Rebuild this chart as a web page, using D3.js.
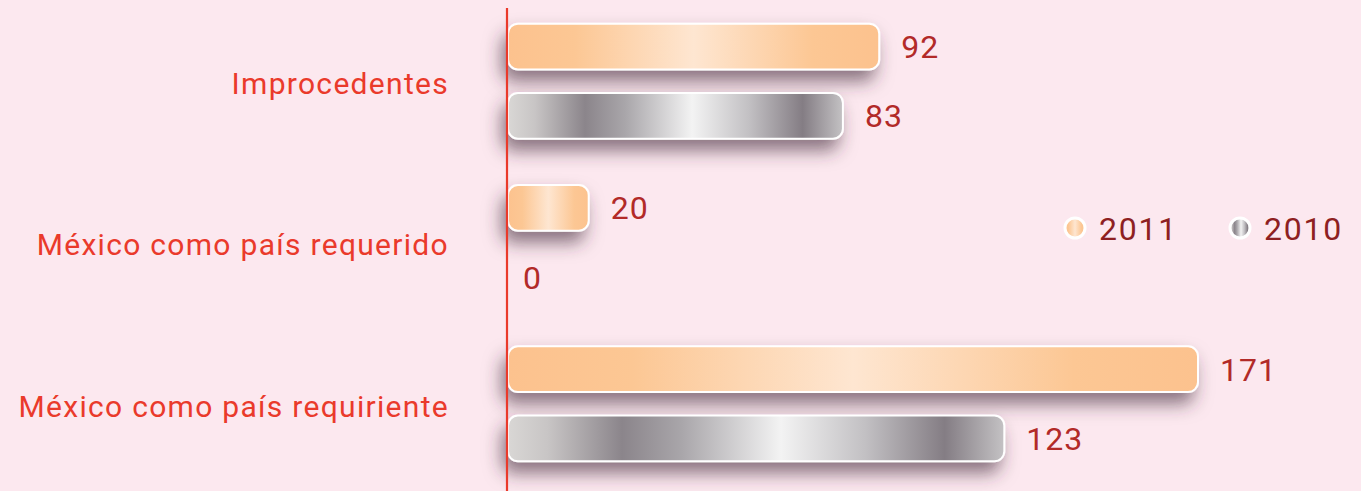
<!DOCTYPE html>
<html>
<head>
<meta charset="utf-8">
<script src="https://cdn.jsdelivr.net/npm/d3@7"></script>
<style>
  html, body { margin: 0; padding: 0; background: #fce8ef; }
  svg { display: block; }
</style>
</head>
<body>
<div id="chart"></div>
<script>
// data
const categories = ["Improcedentes", "México como país requerido", "México como país requiriente"];
const years = ["2011", "2010"];
const values2011 = [92, 20, 171];
const values2010 = [83, 0, 123];

const width = 1361, height = 491;
const x0 = 508;

const rows = categories.map((c, i) => ({ cat: c, vals: [
  { year: "2011", value: values2011[i] },
  { year: "2010", value: values2010[i] }
]}));

const svg = d3.select("#chart").append("svg")
  .attr("width", width)
  .attr("height", height);

svg.append("rect").attr("width", width).attr("height", height).attr("fill", "#fce8ef");

const defs = svg.append("defs");

const orange = defs.append("linearGradient").attr("id", "g2011");
[[0, "#fcc28e"], [0.18, "#fcc794"], [0.5, "#fee6d1"], [0.82, "#fcc794"], [1, "#fcc28e"]]
  .forEach(([o, c]) => orange.append("stop").attr("offset", o).attr("stop-color", c));

const grey = defs.append("linearGradient").attr("id", "g2010");
[[0, "#d9d7d5"], [0.08, "#c8c5c5"], [0.23, "#8b858b"], [0.35, "#a9a6aa"], [0.55, "#f3f3f3"], [0.72, "#c2c0c3"], [0.88, "#847d84"], [1, "#c4c2c4"]]
  .forEach(([o, c]) => grey.append("stop").attr("offset", o).attr("stop-color", c));

// shadow region in user space so it is never clipped
const shadow = defs.append("filter").attr("id", "shadow")
  .attr("filterUnits", "userSpaceOnUse")
  .attr("x", 400).attr("y", -100).attr("width", 1000).attr("height", 400);
shadow.append("feDropShadow")
  .attr("dx", -5).attr("dy", 11).attr("stdDeviation", 9)
  .attr("flood-color", "#452a3a").attr("flood-opacity", 0.62);

const x = d3.scaleLinear().domain([0, 171]).range([x0, 1198]);

const y = d3.scaleBand().domain(categories).range([1, 485]).paddingInner(0).paddingOuter(0);

const yInner = d3.scaleBand().domain(years).range([y.bandwidth() / 2 - 58, y.bandwidth() / 2 + 57]).paddingInner(0.34);

const groups = svg.selectAll("g.group")
  .data(rows)
  .join("g")
  .attr("class", "group")
  .attr("transform", d => `translate(0,${y(d.cat)})`);

groups.append("text")
  .attr("x", 449)
  .attr("y", y.bandwidth() / 2 + 2)
  .attr("dy", "0.35em")
  .attr("text-anchor", "end")
  .style("font-family", "Roboto, 'Noto Sans', sans-serif")
  .style("font-size", "30px")
  .style("letter-spacing", "1.3px")
  .style("fill", "#ea3a2b")
  .text(d => d.cat);

groups.selectAll("rect.bar")
  .data(d => d.vals.filter(v => v.value > 0))
  .join("rect")
  .attr("class", "bar")
  .attr("x", x(0))
  .attr("y", d => yInner(d.year))
  .attr("width", d => x(d.value) - x(0))
  .attr("height", yInner.bandwidth())
  .attr("rx", 10)
  .attr("fill", d => `url(#g${d.year})`)
  .attr("stroke", "#fff")
  .attr("stroke-width", 2)
  .attr("filter", "url(#shadow)");

groups.selectAll("text.val")
  .data(d => d.vals)
  .join("text")
  .attr("class", "val")
  .attr("x", d => x(d.value) + (d.value > 0 ? 22 : 15))
  .attr("y", d => yInner(d.year) + yInner.bandwidth() / 2)
  .attr("dy", "0.36em")
  .style("font-family", "Roboto, 'Noto Sans', sans-serif")
  .style("font-size", "32px")
  .style("letter-spacing", "1px")
  .style("fill", "#b22a28")
  .text(d => d.value);

// axis line
svg.append("line")
  .attr("x1", x(0) - 1).attr("x2", x(0) - 1)
  .attr("y1", 8).attr("y2", height)
  .attr("stroke", "#ea3a2b")
  .attr("stroke-width", 2.2);

// legend
const legend = svg.append("g").attr("transform", "translate(0,228)");
const lx = d3.scaleOrdinal().domain(years).range([1075, 1240]);
const item = legend.selectAll("g.item").data(years).join("g")
  .attr("class", "item")
  .attr("transform", d => `translate(${lx(d)},0)`);
item.append("circle")
  .attr("r", 10)
  .attr("fill", d => `url(#g${d})`)
  .attr("stroke", "#fff")
  .attr("stroke-width", 3);
item.append("text")
  .attr("x", 24)
  .attr("dy", "0.36em")
  .style("font-family", "Roboto, 'Noto Sans', sans-serif")
  .style("font-size", "32px")
  .style("letter-spacing", "1.8px")
  .style("fill", "#8e1f22")
  .text(d => d);
</script>
</body>
</html>
